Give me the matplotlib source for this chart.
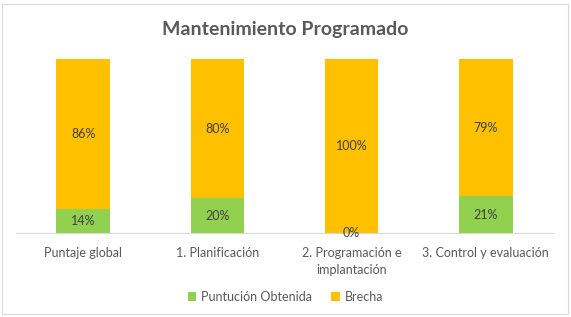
import matplotlib.pyplot as plt
from matplotlib.patches import Rectangle

categories = ["Puntaje global", "1. Planificación", "2. Programación e\nimplantación", "3. Control y evaluación"]
obtenida = [14, 20, 0, 21]
brecha = [86, 80, 100, 79]

green = "#92D050"
gold = "#FFC000"
grey = "#595959"

plt.rcParams['font.family'] = ['Lato', 'DejaVu Sans']

fig = plt.figure(figsize=(5.71, 3.17), dpi=100)
ax = fig.add_axes([16 / 571, 1 - 233 / 317, 537 / 571, 174 / 317])

x = range(len(categories))
b1 = ax.bar(x, obtenida, width=0.4, color=green, label="Puntución Obtenida")
b2 = ax.bar(x, brecha, width=0.4, bottom=obtenida, color=gold, label="Brecha")

for bars, vals, base in [(b1, obtenida, [0] * 4), (b2, brecha, obtenida)]:
    for rect, v, b in zip(bars, vals, base):
        ax.text(rect.get_x() + rect.get_width() / 2, b + v / 2, f"{v}%",
                ha="center", va="center", fontsize=9, color="#404040")

ax.set_xlim(-0.5, 3.5)
ax.set_ylim(0, 100)
ax.set_yticks([])
ax.set_xticks(list(x))
ax.set_xticklabels(categories, fontsize=9, color=grey, linespacing=1.55)
ax.tick_params(axis="x", length=0, pad=10)
for s in ["top", "right", "left"]:
    ax.spines[s].set_visible(False)
ax.spines["bottom"].set_color("#D9D9D9")

fig.text(0.5, 1 - 29 / 317, "Mantenimiento Programado", ha="center", va="center",
         fontsize=14, fontweight="bold", color=grey)

fig.legend(handles=[b1, b2], loc="center", bbox_to_anchor=(0.5, 1 - 297 / 317),
           ncol=2, frameon=False, fontsize=9, labelcolor=grey,
           handlelength=0.7, handleheight=0.7, handletextpad=0.4, columnspacing=1.5)

fig.patches.append(Rectangle((2 / 571, 3 / 317), 566 / 571, 310 / 317, transform=fig.transFigure,
                             fill=False, edgecolor="#D9D9D9", linewidth=0.8))

plt.savefig("out.png", dpi=100)
